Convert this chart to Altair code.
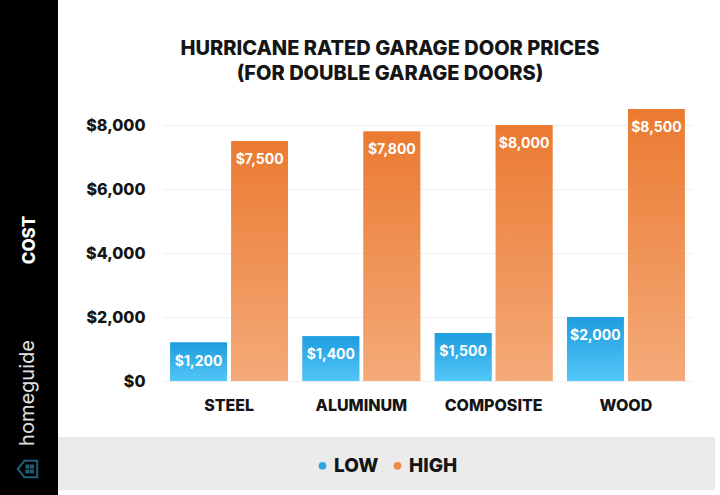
import altair as alt
import pandas as pd

materials = ["STEEL", "ALUMINUM", "COMPOSITE", "WOOD"]
low_cost = [1200, 1400, 1500, 2000]
high_cost = [7500, 7800, 8000, 8500]
series_names = ["LOW", "HIGH"]
y_ticks = [0, 2000, 4000, 6000, 8000]
title_lines = ["HURRICANE RATED GARAGE DOOR PRICES", "(FOR DOUBLE GARAGE DOORS)"]

rows = []
for m, lo, hi in zip(materials, low_cost, high_cost):
    rows.append({"material": m, "series": "LOW", "cost": lo, "label": f"${lo:,}"})
    rows.append({"material": m, "series": "HIGH", "cost": hi, "label": f"${hi:,}"})
df = pd.DataFrame(rows)

FONT = "Inter"
W, H = 529, 272

blue_grad = {"gradient": "linear", "x1": 0, "y1": 0, "x2": 0, "y2": 1,
             "stops": [{"offset": 0, "color": "#1f9ddf"}, {"offset": 1, "color": "#52c6f7"}]}
orange_grad = {"gradient": "linear", "x1": 0, "y1": 0, "x2": 0, "y2": 1,
               "stops": [{"offset": 0, "color": "#eb7a31"}, {"offset": 1, "color": "#f4aa79"}]}

x_enc = alt.X("material:N", sort=materials,
              scale=alt.Scale(paddingInner=0.11, paddingOuter=0.055),
              axis=alt.Axis(title=None, labelAngle=0, labelFont=FONT, labelFontSize=16,
                            labelFontWeight=800, labelColor="#151515", ticks=False,
                            domain=False, labelPadding=16))
xo_enc = alt.XOffset("series:N", sort=series_names,
                     scale=alt.Scale(domain=series_names, paddingInner=0.07, paddingOuter=0))
y_enc = alt.Y("cost:Q", scale=alt.Scale(domain=[0, 8500], nice=False),
              axis=alt.Axis(title=None, values=y_ticks, format="$,d", labelFont=FONT,
                            labelFontSize=16, labelFontWeight=800, labelColor="#151515",
                            ticks=False, domain=False, labelPadding=18,
                            gridColor="#efefef", gridWidth=1))

one = pd.DataFrame({"k": [0]})

sidebar = alt.Chart(one).mark_rect(color="#000000").encode(
    x=alt.value(-163), x2=alt.value(-105), y=alt.value(-109), y2=alt.value(386))
band = alt.Chart(one).mark_rect(color="#ebebeb").encode(
    x=alt.value(-105), x2=alt.value(552), y=alt.value(328), y2=alt.value(381))

solid = alt.Chart(df).mark_bar().encode(
    x=x_enc, xOffset=xo_enc, y=y_enc,
    color=alt.Color("series:N", sort=series_names,
                    scale=alt.Scale(domain=series_names, range=["#2aa7e4", "#ee8a48"]),
                    legend=alt.Legend(title=None, orient="none", direction="horizontal",
                                      legendX=150, legendY=347, symbolType="circle",
                                      symbolSize=60, symbolStrokeWidth=0,
                                      labelFont=FONT, labelFontSize=19, labelFontWeight=800,
                                      labelColor="#151515", labelOffset=2,
                                      columnPadding=9, padding=0)))

grad = alt.Chart(df).mark_bar().encode(
    x=x_enc, xOffset=xo_enc, y=y_enc,
    color=alt.condition("datum.series === 'LOW'", alt.value(blue_grad), alt.value(orange_grad)))

labels = alt.Chart(df).mark_text(color="white", font=FONT, fontSize=14, fontWeight=700,
                                 baseline="middle", dy=19).encode(
    x=x_enc, xOffset=xo_enc, y=y_enc, text="label:N")

title_txt = alt.Chart(one).mark_text(text="\n".join(title_lines), lineBreak="\n",
                                     lineHeight=25, font=FONT, fontSize=20, fontWeight=800,
                                     color="#151515", align="center",
                                     baseline="middle").encode(
    x=alt.value(227), y=alt.value(-60))

cost_txt = alt.Chart(one).mark_text(text="COST", color="white", font=FONT, fontSize=17,
                                    fontWeight=800, angle=270, align="center",
                                    baseline="middle").encode(
    x=alt.value(-133), y=alt.value(131))
brand_txt = alt.Chart(one).mark_text(text="homeguide", color="#e0e0e0", font=FONT,
                                     fontSize=20, fontWeight=400, angle=270, align="center",
                                     baseline="middle").encode(
    x=alt.value(-135), y=alt.value(284))
icon = alt.Chart(one).mark_point(
    shape=("M -1 0 L -0.35 -0.8 L 0.9 -0.8 L 0.9 0.8 L -0.35 0.8 Z "
           "M -0.15 -0.35 h 0.2 v 0.2 h -0.2 Z M 0.3 -0.35 h 0.2 v 0.2 h -0.2 Z "
           "M -0.15 0.15 h 0.2 v 0.2 h -0.2 Z M 0.3 0.15 h 0.2 v 0.2 h -0.2 Z"),
    filled=False, stroke="#2d86a8", strokeWidth=2, size=420).encode(
    x=alt.value(-135), y=alt.value(360))

chart = alt.layer(sidebar, band, solid, grad, labels, title_txt, cost_txt, brand_txt,
                  icon).properties(
    width=W, height=H,
    autosize=alt.AutoSizeParams(type="none"),
    padding={"left": 163, "top": 109, "right": 28, "bottom": 114},
    background="white",
).configure_view(stroke=None)

chart.save("out.html", embed_options={"renderer": "svg", "actions": False})
